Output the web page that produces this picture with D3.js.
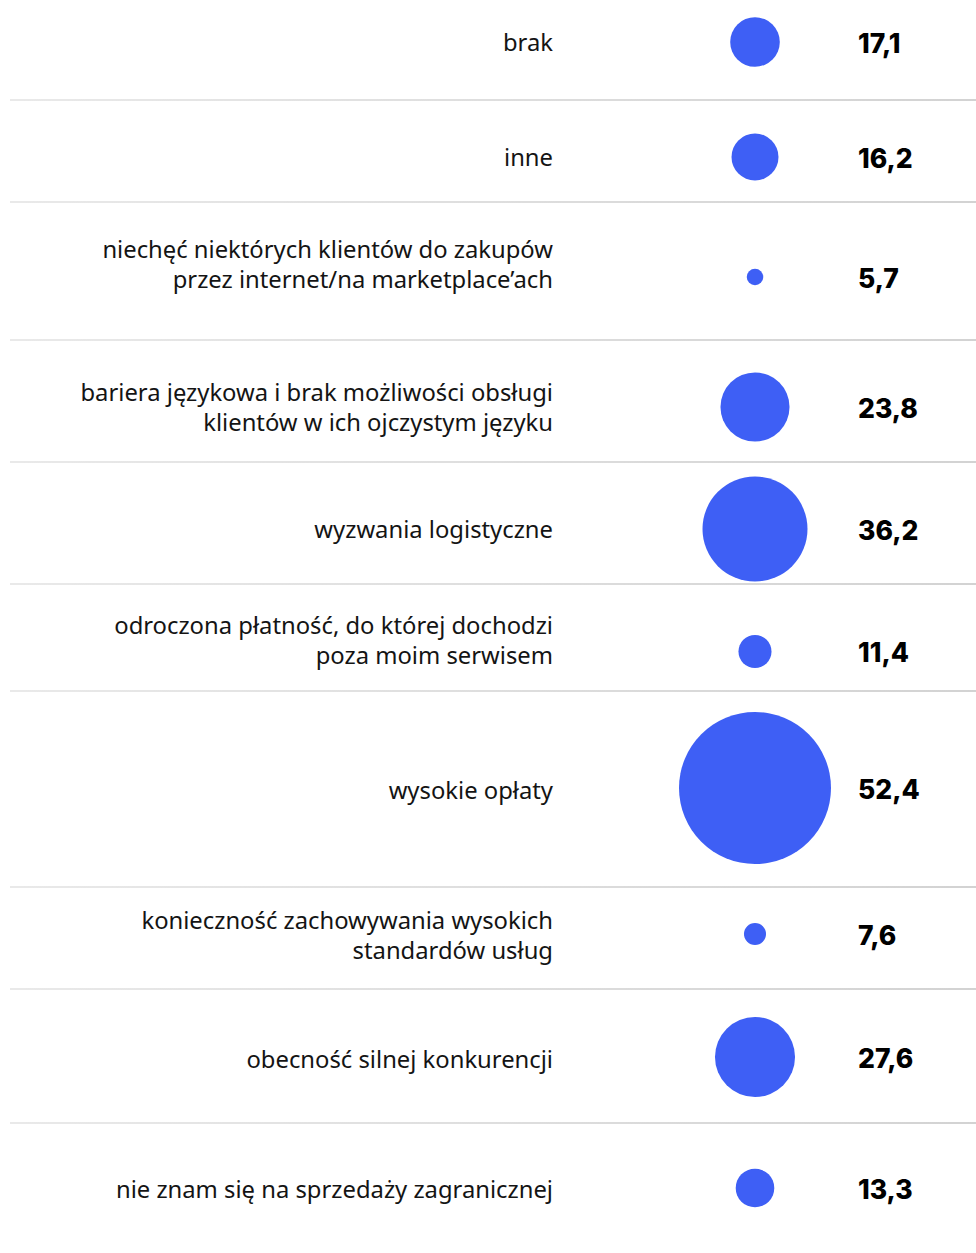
<!DOCTYPE html>
<html lang="pl">
<head>
<meta charset="UTF-8">
<title>Bariery sprzedaży zagranicznej</title>
<script src="https://cdn.jsdelivr.net/npm/d3@7"></script>
<style>
    body { margin: 0; background: #fff; }
    .label { font-family: "Noto Sans", sans-serif; font-size: 23.8px; fill: #141414; }
    .value { font-family: Inter, sans-serif; font-size: 26.5px; font-weight: 800; fill: #000; }
</style>
</head>
<body>
<script>
    // dane
    var categories = [
        ["brak"],
        ["inne"],
        ["niechęć niektórych klientów do zakupów", "przez internet/na marketplace’ach"],
        ["bariera językowa i brak możliwości obsługi", "klientów w ich ojczystym języku"],
        ["wyzwania logistyczne"],
        ["odroczona płatność, do której dochodzi", "poza moim serwisem"],
        ["wysokie opłaty"],
        ["konieczność zachowywania wysokich", "standardów usług"],
        ["obecność silnej konkurencji"],
        ["nie znam się na sprzedaży zagranicznej"]
    ];
    var values = [17.1, 16.2, 5.7, 23.8, 36.2, 11.4, 52.4, 7.6, 27.6, 13.3];

    // układ wierszy
    var rowHeights = [100, 102, 138, 122, 122, 107, 196, 102, 134, 130];
    var markNudge  = [-8, 6, 6, 6, 6, 14, -1, -4, 1, 0];
    var labelNudge = [0, 0, -13, 0, 0, -12, 2, 1, 2, 1];

    var width = 976, height = 1253;
    var labelX = 553, circleX = 755, valueX = 858, lineH = 30;

    var svg = d3.select("body").append("svg")
        .attr("width", width)
        .attr("height", height);

    var grad = svg.append("defs").append("linearGradient")
        .attr("id", "sep").attr("x1", "0%").attr("x2", "100%");
    grad.append("stop").attr("offset", "0%").attr("stop-color", "#e2e2e2");
    grad.append("stop").attr("offset", "100%").attr("stop-color", "#c4c4c4");

    var tops = [0];
    rowHeights.forEach(function (h, i) { tops.push(tops[i] + h); });

    var r = d3.scaleLinear().domain([0, d3.max(values)]).range([0, 76]);
    var fmt = function (v) { return d3.format(".1f")(v).replace(".", ","); };

    var rows = svg.selectAll("g.row")
        .data(values)
        .enter().append("g")
        .attr("class", "row")
        .attr("transform", function (d, i) {
            return "translate(0," + (tops[i] + rowHeights[i] / 2 + markNudge[i]) + ")";
        });

    rows.append("circle")
        .attr("cx", circleX)
        .attr("cy", 0)
        .attr("r", function (d) { return r(d); })
        .attr("fill", "#3e5ff5");

    rows.append("text")
        .attr("class", "value")
        .attr("x", valueX)
        .attr("dy", "0.4em")
        .text(fmt);

    rows.append("text")
        .attr("class", "label")
        .attr("text-anchor", "end")
        .each(function (d, i) {
            var lines = categories[i];
            var y0 = labelNudge[i] - (lines.length - 1) * lineH / 2;
            d3.select(this).selectAll("tspan")
                .data(lines)
                .enter().append("tspan")
                .attr("x", labelX)
                .attr("y", function (l, j) { return y0 + j * lineH; })
                .attr("dy", "0.39em")
                .text(function (l) { return l; });
        });

    // linie oddzielające
    svg.selectAll("rect.sep")
        .data(tops.slice(1, -1))
        .enter().append("rect")
        .attr("class", "sep")
        .attr("x", 10)
        .attr("y", function (d) { return d - 0.75; })
        .attr("width", width - 10)
        .attr("height", 1.5)
        .attr("fill", "url(#sep)");
</script>
</body>
</html>
